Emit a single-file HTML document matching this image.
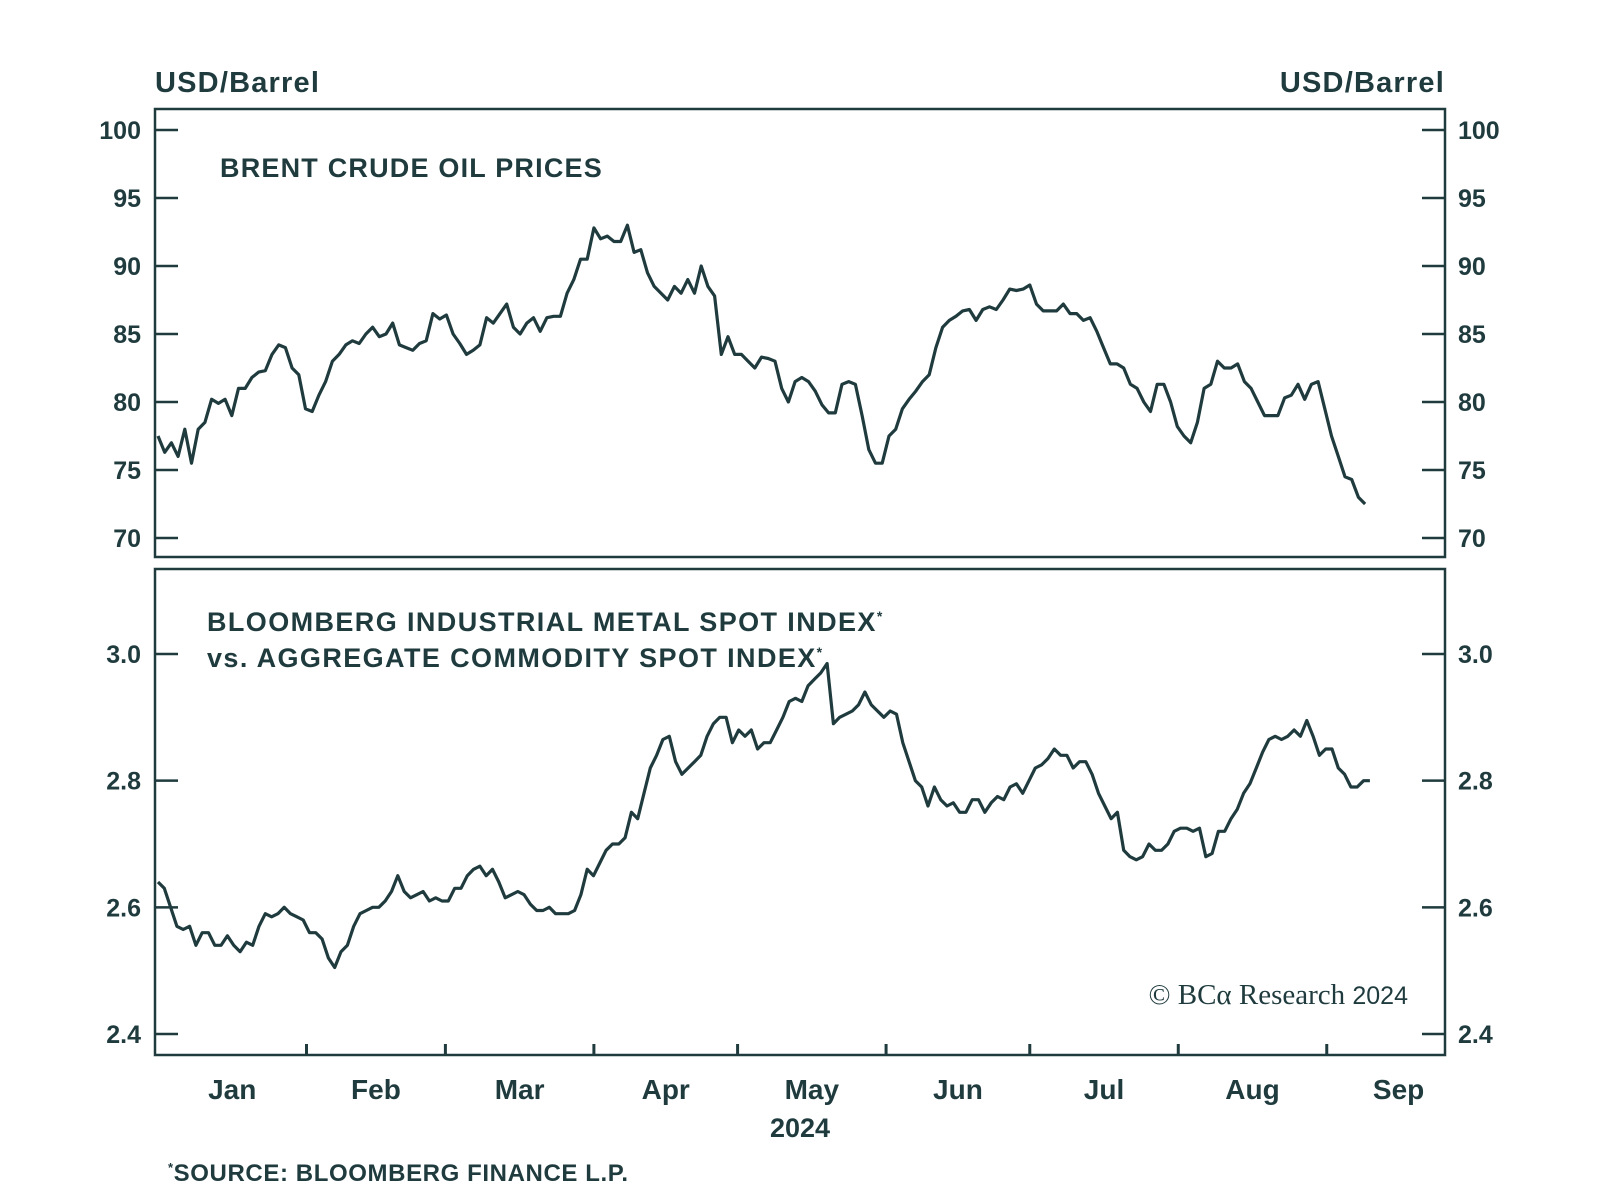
<!DOCTYPE html>
<html><head><meta charset="utf-8"><style>
html,body{margin:0;padding:0;background:#fff;}
svg{display:block;font-family:"Liberation Sans",sans-serif;}
</style></head><body>
<svg id="chart" width="1600" height="1198" viewBox="0 0 1600 1198">
<g id="static" fill="#1f3b3e" font-weight="bold">
<text x="155" y="92" font-size="29" letter-spacing="1.2">USD/Barrel</text>
<text x="1445" y="92" font-size="29" letter-spacing="1.2" text-anchor="end">USD/Barrel</text>
<text x="220" y="177" font-size="27" letter-spacing="1.2">BRENT CRUDE OIL PRICES</text>
<text x="207" y="631" font-size="27" letter-spacing="1.4">BLOOMBERG INDUSTRIAL METAL SPOT INDEX<tspan font-size="14" dy="-10">*</tspan></text>
<text x="207" y="667" font-size="27" letter-spacing="1.4">vs. AGGREGATE COMMODITY SPOT INDEX<tspan font-size="14" dy="-10">*</tspan></text>
<text x="1408" y="1004" font-size="29" font-weight="normal" text-anchor="end" font-family="Liberation Serif, serif">© BCα Research <tspan font-family="Liberation Sans, sans-serif" font-size="25">2024</tspan></text>
<text x="800" y="1137" font-size="27" text-anchor="middle">2024</text>
<text x="168" y="1181" font-size="24" letter-spacing="0.6"><tspan font-size="13" dy="-9">*</tspan><tspan dy="9">SOURCE: BLOOMBERG FINANCE L.P.</tspan></text>
</g>
<g id="plot"></g>
</svg>
<script>
const brentValues=[77.5,76.3,77,76,78,75.5,78,78.5,80.2,79.9,80.2,79,81,81,81.8,82.2,82.3,83.5,84.2,84,82.5,82,79.5,79.3,80.5,81.5,83,83.5,84.2,84.5,84.3,85,85.5,84.8,85,85.8,84.2,84,83.8,84.3,84.5,86.5,86.1,86.4,85,84.3,83.5,83.8,84.2,86.2,85.8,86.5,87.2,85.5,85,85.8,86.2,85.2,86.2,86.3,86.3,88,89,90.5,90.5,92.8,92,92.2,91.8,91.8,93,91,91.2,89.5,88.5,88,87.5,88.5,88,89,88,90,88.5,87.8,83.5,84.8,83.5,83.5,83,82.5,83.3,83.2,83,81,80,81.5,81.8,81.5,80.8,79.8,79.2,79.2,81.3,81.5,81.3,79,76.5,75.5,75.5,77.5,78,79.5,80.2,80.8,81.5,82,84,85.5,86,86.3,86.7,86.8,86,86.8,87,86.8,87.5,88.3,88.2,88.3,88.6,87.2,86.7,86.7,86.7,87.2,86.5,86.5,86,86.2,85.2,84,82.8,82.8,82.5,81.3,81,80,79.3,81.3,81.3,80,78.2,77.5,77,78.5,81,81.3,83,82.5,82.5,82.8,81.5,81,80,79,79,79,80.3,80.5,81.3,80.2,81.3,81.5,79.5,77.5,76,74.5,74.3,73,72.5];
const metalValues=[2.64,2.63,2.6,2.57,2.565,2.57,2.54,2.56,2.56,2.54,2.54,2.555,2.54,2.53,2.545,2.54,2.57,2.59,2.585,2.59,2.6,2.59,2.585,2.58,2.56,2.56,2.55,2.52,2.505,2.53,2.54,2.57,2.59,2.595,2.6,2.6,2.61,2.625,2.65,2.625,2.615,2.62,2.625,2.61,2.615,2.61,2.61,2.63,2.63,2.65,2.66,2.665,2.65,2.66,2.64,2.615,2.62,2.625,2.62,2.605,2.595,2.595,2.6,2.59,2.59,2.59,2.595,2.62,2.66,2.65,2.67,2.69,2.7,2.7,2.71,2.75,2.74,2.78,2.82,2.84,2.865,2.87,2.83,2.81,2.82,2.83,2.84,2.87,2.89,2.9,2.9,2.86,2.88,2.87,2.88,2.85,2.86,2.86,2.88,2.9,2.925,2.93,2.925,2.95,2.96,2.97,2.985,2.89,2.9,2.905,2.91,2.92,2.94,2.92,2.91,2.9,2.91,2.905,2.86,2.83,2.8,2.79,2.76,2.79,2.77,2.76,2.765,2.75,2.75,2.77,2.77,2.75,2.765,2.775,2.77,2.79,2.795,2.78,2.8,2.82,2.825,2.835,2.85,2.84,2.84,2.82,2.83,2.83,2.81,2.78,2.76,2.74,2.75,2.69,2.68,2.675,2.68,2.7,2.69,2.69,2.7,2.72,2.725,2.725,2.72,2.725,2.68,2.685,2.72,2.72,2.74,2.755,2.78,2.795,2.82,2.845,2.865,2.87,2.865,2.87,2.88,2.87,2.895,2.87,2.84,2.85,2.85,2.82,2.81,2.79,2.79,2.8,2.8];
const brentStartDay=0, brentEndDay=252;
const metalStartDay=0, metalEndDay=253;
const brentTicks=[100,95,90,85,80,75,70];
const metalTicks=[3.0,2.8,2.6,2.4];
const monthLabels=["Jan","Feb","Mar","Apr","May","Jun","Jul","Aug","Sep"];
const monthStartDays=[0,31,60,91,121,152,182,213,244,274];

const NS="http://www.w3.org/2000/svg";
const plot=document.getElementById('plot');
const L=155,R=1445,C="#1f3b3e";
const xDay=d=>158+d*4.79;
const yTop=v=>130+(100-v)*(538-130)/30;
const yBot=v=>654+(3.0-v)*(1034-654)/0.6;
function mk(tag,attrs){const e=document.createElementNS(NS,tag);for(const k in attrs)e.setAttribute(k,attrs[k]);plot.appendChild(e);return e;}

let r1=mk('rect',{x:L,y:109,width:R-L,height:448,fill:'none',stroke:C,'stroke-width':2.5});


let r2=mk('rect',{x:L,y:569,width:R-L,height:486,fill:'none',stroke:C,'stroke-width':2.5});



brentTicks.forEach(v=>{
  const y=yTop(v);
  let t=mk('path',{d:`M${L} ${y}H${L+23}M${R} ${y}H${R-23}`,stroke:C,'stroke-width':2.5});
  
  
  let a=mk('text',{x:141,y:y+9,'font-size':25,'text-anchor':'end',fill:C,'font-weight':'bold'});a.textContent=v;
  
  
  let b=mk('text',{x:1458,y:y+9,'font-size':25,fill:C,'font-weight':'bold'});b.textContent=v;
  
  
});
metalTicks.forEach(v=>{
  const y=yBot(v);
  let t=mk('path',{d:`M${L} ${y}H${L+23}M${R} ${y}H${R-23}`,stroke:C,'stroke-width':2.5});
  
  
  let a=mk('text',{x:141,y:y+9,'font-size':25,'text-anchor':'end',fill:C,'font-weight':'bold'});a.textContent=v.toFixed(1);
  
  
  let b=mk('text',{x:1458,y:y+9,'font-size':25,fill:C,'font-weight':'bold'});b.textContent=v.toFixed(1);
  
  
});
monthLabels.forEach((m,i)=>{
  if(i>0){
    const x=xDay(monthStartDays[i]);
    let t=mk('path',{d:`M${x} 1055V1044`,stroke:C,'stroke-width':3});
    
    
  }
  const cx=(xDay(monthStartDays[i])+xDay(monthStartDays[i+1]))/2;
  let lb=mk('text',{x:Math.min(cx,1400),y:1099,'font-size':28,'text-anchor':'middle',fill:C,'font-weight':'bold'});lb.textContent=m;
  
  
});
function line(vals,s,e,ys,name){
  const n=vals.length;
  const d=vals.map((v,i)=>(i?'L':'M')+xDay(s+i*(e-s)/(n-1)).toFixed(1)+' '+ys(v).toFixed(1)).join('');
  let p=mk('path',{d,fill:'none',stroke:C,'stroke-width':3.2,'stroke-linejoin':'round'});
  
  
}
line(brentValues,brentStartDay,brentEndDay,yTop,'brent-line');
line(metalValues,metalStartDay,metalEndDay,yBot,'metal-ratio-line');
</script>
</body></html>
